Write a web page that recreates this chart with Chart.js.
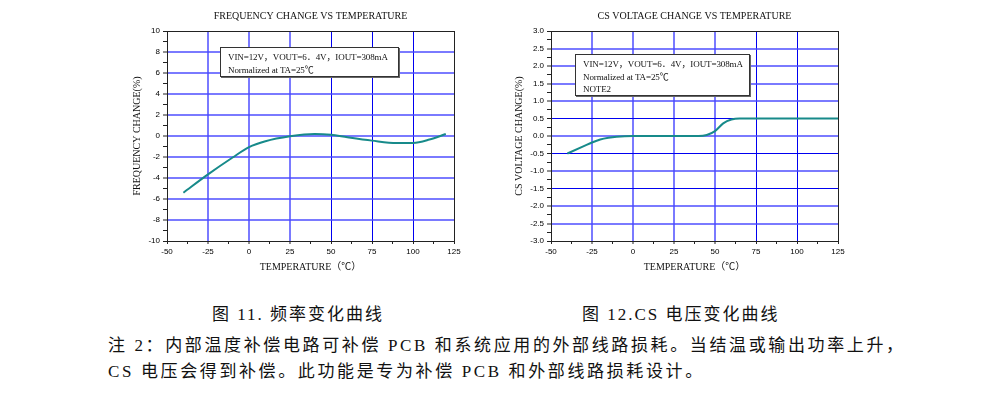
<!DOCTYPE html>
<html lang="zh-CN">
<head>
<meta charset="utf-8">
<title>频率变化曲线 / CS 电压变化曲线</title>
<script src="https://cdn.jsdelivr.net/npm/chart.js@4.4.1/dist/chart.umd.min.js"></script>
<style>
  body { margin: 0; background: #fff; width: 991px; height: 412px; position: relative; overflow: hidden; }
  canvas { position: absolute; top: 0; }
  #freqChart { left: 120px; }
  #csChart { left: 500px; }
  .cond-box {
    position: absolute; box-sizing: border-box; background: #fff;
    border: 1px solid #333; box-shadow: 1px 1px 0 #666;
    font-family: 'Liberation Serif', 'Noto Sans CJK SC', serif; font-size: 9px;
    letter-spacing: -0.1px; line-height: 12.5px; padding: 3px 0 0 7px; color: #111; white-space: nowrap;
  }
  .caption, .remark {
    position: absolute; color: #111; white-space: nowrap;
    font-family: 'Liberation Serif', 'Noto Sans CJK SC', serif;
  }
  .caption { top: 303px; font-size: 17px; line-height: 24px; letter-spacing: 2px; }
  .remark { left: 108px; font-size: 17px; line-height: 24px; letter-spacing: 2.62px; }
</style>
</head>
<body>
<canvas id="freqChart" width="350" height="285"></canvas>
<canvas id="csChart" width="350" height="285"></canvas>

<div class="cond-box" style="left:220px; top:47px; width:179px; height:30px;">
  VIN=12V，VOUT=6．4V，IOUT=308mA<br>Normalized at TA=25℃
</div>
<div class="cond-box" style="left:575px; top:54px; width:175px; height:42px;">
  VIN=12V，VOUT=6．4V，IOUT=308mA<br>Normalized at TA=25℃<br>NOTE2
</div>

<div class="caption" style="left:212px;">图 11. 频率变化曲线</div>
<div class="caption" style="left:582px;">图 12.CS 电压变化曲线</div>
<div class="remark" style="top:334px;">注 2：内部温度补偿电路可补偿 PCB 和系统应用的外部线路损耗。当结温或输出功率上升，</div>
<div class="remark" style="top:360px;">CS 电压会得到补偿。此功能是专为补偿 PCB 和外部线路损耗设计。</div>

<script>
// temperature axis (°C)
const tempTicks = [-50, 125];
const tempStep = 25;

// Fig 11: frequency change (%) vs temperature
const freqTemps  = [-40, -25, -10, 0, 10, 25, 40, 50, 60, 75, 90, 100, 110, 120];
const freqChange = [-5.4, -3.66, -2.05, -1.06, -0.5, -0.03, 0.2, 0.12, -0.12, -0.44, -0.67, -0.66, -0.34, 0.19];
const freqYRange = [-10, 10];
const freqYStep = 2;

// Fig 12: CS voltage change (%) vs temperature
const csTemps  = [-40, -30, -25, -20, -15, -10, 0, 25, 40, 45, 50, 55, 60, 65, 75, 100, 125];
const csChange = [-0.5, -0.29, -0.185, -0.1, -0.05, -0.02, 0, 0, 0, 0.03, 0.14, 0.36, 0.47, 0.5, 0.5, 0.5, 0.5];
const csYRange = [-3, 3];
const csYStep = 0.5;

const SERIF = "'Liberation Serif', 'Noto Sans CJK SC', serif";
const LINE_COLOR = '#178a8a';
const GRID_LIGHT = 'rgba(70, 70, 255, 0.72)';
const GRID_DARK = '#0000f0';
const FRAME = '#222';

Chart.defaults.font.family = "'Liberation Sans', Arial, sans-serif";
Chart.defaults.color = '#000';

function isMajor(value, step) {
    return Math.abs(value / step - Math.round(value / step)) < 1e-6;
}

// grid line look: frame at the ends, nothing at minor ticks, light or dark blue elsewhere
function gridStyle(value, min, max, step, darkValues) {
    if (value === min || value === max) return { color: FRAME, width: 1 };
    if (!isMajor(value, step)) return { color: 'rgba(0,0,0,0)', width: 1 };
    if (darkValues.includes(value)) return { color: GRID_DARK, width: 1 };
    return { color: GRID_LIGHT, width: 2 };
}

function buildChart(canvasId, cfg) {
    const points = cfg.temps.map((t, i) => ({ x: t, y: cfg.values[i] }));
    const [xMin, xMax] = tempTicks;
    const [yMin, yMax] = cfg.yRange;

    return new Chart(document.getElementById(canvasId), {
        type: 'line',
        data: {
            datasets: [{
                data: points,
                borderColor: LINE_COLOR,
                borderWidth: 2,
                pointRadius: 0,
                fill: false,
                cubicInterpolationMode: 'monotone'
            }]
        },
        options: {
            responsive: false,
            animation: false,
            layout: { padding: { left: 0, right: cfg.padRight, top: 0, bottom: 0 } },
            plugins: {
                legend: { display: false },
                tooltip: { enabled: false },
                title: {
                    display: true,
                    text: cfg.title,
                    fullSize: false,
                    color: '#111',
                    font: { family: SERIF, size: 10, weight: 'normal' },
                    padding: { top: 10, bottom: 9 }
                }
            },
            scales: {
                x: {
                    type: 'linear',
                    min: xMin, max: xMax,
                    afterFit: s => { s.height = 44; },
                    border: { color: FRAME, width: 1 },
                    grid: {
                        color: c => gridStyle(c.tick.value, xMin, xMax, tempStep, cfg.xDark).color,
                        lineWidth: c => gridStyle(c.tick.value, xMin, xMax, tempStep, cfg.xDark).width,
                        tickColor: FRAME,
                        tickWidth: 1,
                        tickLength: 3
                    },
                    ticks: {
                        stepSize: tempStep / 2,
                        maxTicksLimit: 100,
                        autoSkip: false,
                        maxRotation: 0,
                        padding: 3,
                        font: { size: 8 },
                        callback: v => isMajor(v, tempStep) ? String(v) : ''
                    },
                    title: {
                        display: true,
                        text: 'TEMPERATURE（℃）',
                        color: '#111',
                        font: { family: SERIF, size: 10 },
                        padding: { top: 0, bottom: 12 }
                    }
                },
                y: {
                    type: 'linear',
                    min: yMin, max: yMax,
                    afterFit: s => { s.width = cfg.yWidth; },
                    border: { color: FRAME, width: 1 },
                    grid: {
                        color: c => gridStyle(c.tick.value, yMin, yMax, cfg.yStep, cfg.yDark).color,
                        lineWidth: c => gridStyle(c.tick.value, yMin, yMax, cfg.yStep, cfg.yDark).width,
                        tickColor: FRAME,
                        tickWidth: 1,
                        tickLength: 4
                    },
                    ticks: {
                        stepSize: cfg.yStep / 2,
                        maxTicksLimit: 100,
                        autoSkip: false,
                        padding: 3,
                        font: { size: 8 },
                        callback: v => isMajor(v, cfg.yStep) ? cfg.fmt(v) : ''
                    },
                    title: {
                        display: true,
                        text: cfg.yTitle,
                        color: '#111',
                        font: { family: SERIF, size: 10 },
                        padding: { top: cfg.yTitlePad, bottom: 0 }
                    }
                }
            }
        }
    });
}

buildChart('freqChart', {
    title: 'FREQUENCY CHANGE VS TEMPERATURE',
    yTitle: 'FREQUENCY CHANGE(%)',
    temps: freqTemps,
    values: freqChange,
    yRange: freqYRange,
    yStep: freqYStep,
    fmt: v => String(v),
    yWidth: 47,
    yTitlePad: 11,
    padRight: 16,
    xDark: [50, 75, 100],
    yDark: []
});

buildChart('csChart', {
    title: 'CS VOLTAGE CHANGE VS TEMPERATURE',
    yTitle: 'CS VOLTAGE CHANGE(%)',
    temps: csTemps,
    values: csChange,
    yRange: csYRange,
    yStep: csYStep,
    fmt: v => v.toFixed(1),
    yWidth: 51,
    yTitlePad: 13,
    padRight: 12,
    xDark: [75, 100],
    yDark: [0.5, -0.5, -1.5]
});
</script>
</body>
</html>
